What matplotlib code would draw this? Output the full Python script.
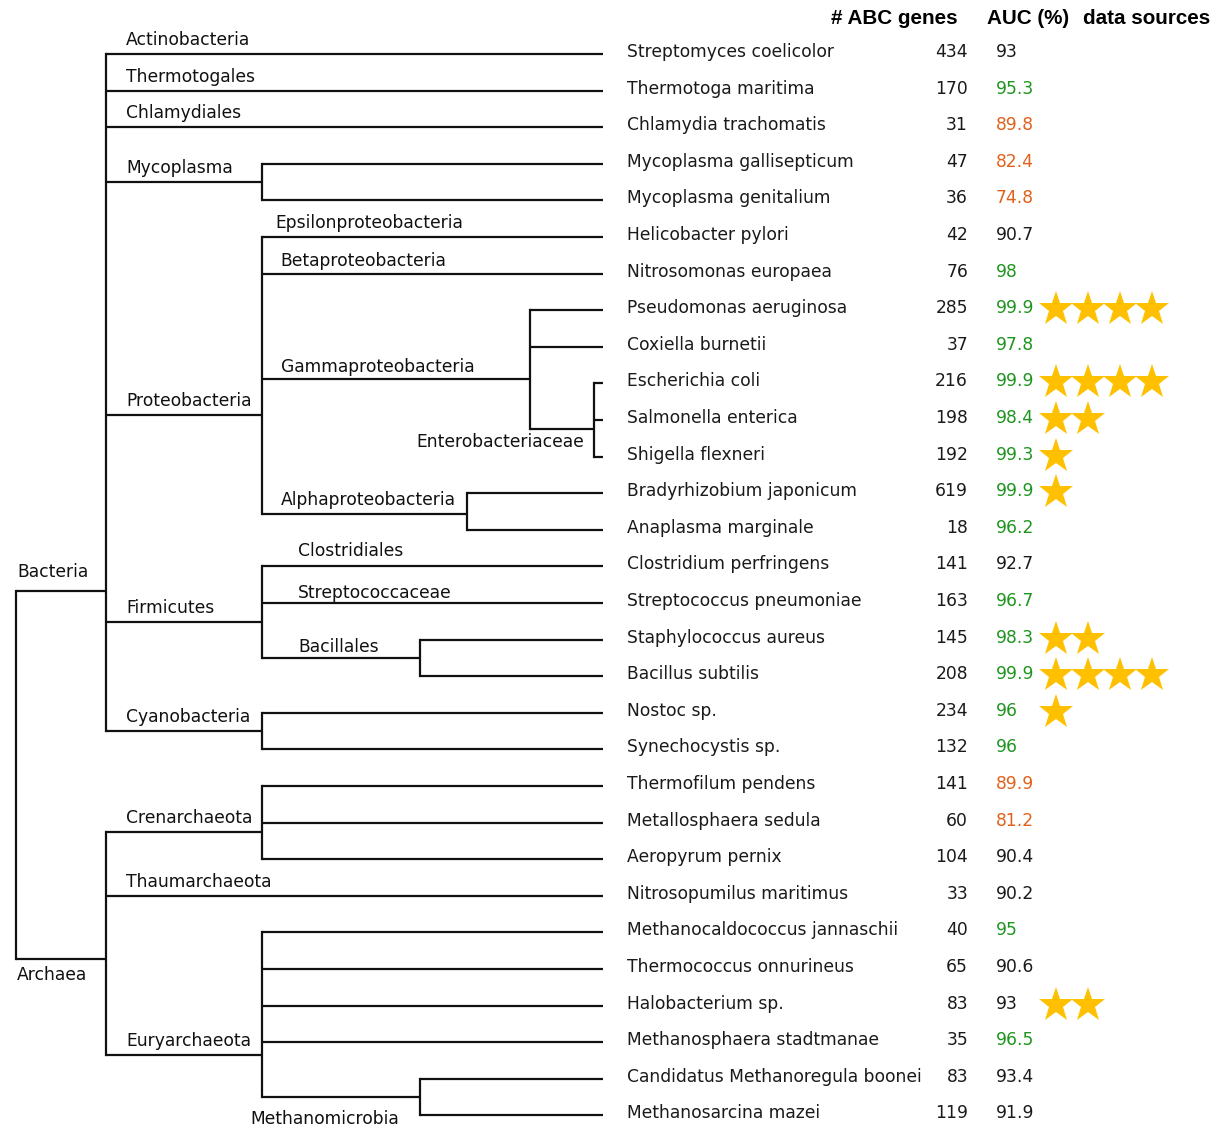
import matplotlib.pyplot as plt

# leaf data (top to bottom)
species = ["Streptomyces coelicolor", "Thermotoga maritima", "Chlamydia trachomatis",
           "Mycoplasma gallisepticum", "Mycoplasma genitalium", "Helicobacter pylori",
           "Nitrosomonas europaea", "Pseudomonas aeruginosa", "Coxiella burnetii",
           "Escherichia coli", "Salmonella enterica", "Shigella flexneri",
           "Bradyrhizobium japonicum", "Anaplasma marginale", "Clostridium perfringens",
           "Streptococcus pneumoniae", "Staphylococcus aureus", "Bacillus subtilis",
           "Nostoc sp.", "Synechocystis sp.", "Thermofilum pendens", "Metallosphaera sedula",
           "Aeropyrum pernix", "Nitrosopumilus maritimus", "Methanocaldococcus jannaschii",
           "Thermococcus onnurineus", "Halobacterium sp.", "Methanosphaera stadtmanae",
           "Candidatus Methanoregula boonei", "Methanosarcina mazei"]
abc_genes = [434, 170, 31, 47, 36, 42, 76, 285, 37, 216, 198, 192, 619, 18, 141,
             163, 145, 208, 234, 132, 141, 60, 104, 33, 40, 65, 83, 35, 83, 119]
auc = ["93", "95.3", "89.8", "82.4", "74.8", "90.7", "98", "99.9", "97.8", "99.9",
       "98.4", "99.3", "99.9", "96.2", "92.7", "96.7", "98.3", "99.9", "96", "96",
       "89.9", "81.2", "90.4", "90.2", "95", "90.6", "93", "96.5", "93.4", "91.9"]
sources = [0, 0, 0, 0, 0, 0, 0, 4, 0, 4, 2, 1, 1, 0, 0,
           0, 2, 4, 1, 0, 0, 0, 0, 0, 0, 0, 2, 0, 0, 0]

# tree: (label, x of node, y of node in leaf units or None=midpoint, children)
# leaves are int indices
tree = ("", 16, 14.67, [
    ("Bacteria", 106, 14.67, [
        ("Actinobacteria", None, None, [0]),
        ("Thermotogales", None, None, [1]),
        ("Chlamydiales", None, None, [2]),
        ("Mycoplasma", 262, None, [3, 4]),
        ("Proteobacteria", 262, 9.86, [
            ("Epsilonproteobacteria", None, None, [5]),
            ("Betaproteobacteria", None, None, [6]),
            ("Gammaproteobacteria", 530, 8.88, [7, 8,
                ("Enterobacteriaceae", 594, 10.25, [9, 10, 11])]),
            ("Alphaproteobacteria", 467, 12.57, [12, 13]),
        ]),
        ("Firmicutes", 262, 15.52, [
            ("Clostridiales", None, None, [14]),
            ("Streptococcaceae", None, None, [15]),
            ("Bacillales", 420, None, [16, 17]),
        ]),
        ("Cyanobacteria", 262, None, [18, 19]),
    ]),
    ("Archaea", 106, 24.73, [
        ("Crenarchaeota", 262, 21.26, [20, 21, 22]),
        ("Thaumarchaeota", None, None, [23]),
        ("Euryarchaeota", 262, 27.35, [24, 25, 26, 27,
            ("Methanomicrobia", 420, None, [28, 29])]),
    ]),
])

# label offsets (dx from parent vertical, dy from branch) in pixels
label_off = {"Bacteria": (1, -19), "Archaea": (1, 16),
             "Epsilonproteobacteria": (13, -14), "Betaproteobacteria": (18, -13),
             "Gammaproteobacteria": (19, -12), "Alphaproteobacteria": (19, -14),
             "Clostridiales": (36, -15), "Streptococcaceae": (36, -10),
             "Bacillales": (36, -11), "Enterobacteriaceae": (-10, 13),
             "Methanomicrobia": (-12, 22)}

Y0, DY = 54, 36.6
LEAF_X = 603
lw = 1.6
FS = 12.3

fig = plt.figure(figsize=(12.24, 11.29), dpi=100)
ax = fig.add_axes([0, 0, 1, 1])
ax.set_xlim(0, 1224)
ax.set_ylim(1129, 0)
ax.axis('off')

def ypos(i):
    return Y0 + i * DY

def layout(node):
    # returns (x, y) for the node
    if isinstance(node, int):
        return LEAF_X, ypos(node)
    label, x, y, children = node
    pts = [layout(c) for c in children]
    if x is None:
        x, y = pts[0]
        return x, y
    if y is None:
        y = (pts[0][1] + pts[-1][1]) / 2
    else:
        y = ypos(y)
    return x, y

def draw(node, px):
    x, y = layout(node)
    if isinstance(node, int):
        ax.plot([px, x], [y, y], color='#111111', lw=lw, solid_capstyle='butt')
        return
    label, nx, ny, children = node
    if px is not None:
        ax.plot([px, x], [y, y], color='#111111', lw=lw, solid_capstyle='butt')
        if label:
            dx, dy = label_off.get(label, (20, -14))
            ha = 'left'
            tx = px + dx
            if label == "Enterobacteriaceae":
                ha, tx = 'right', x + dx
            ax.text(tx, y + dy, label, fontsize=FS, ha=ha, va='center',
                    color='#111111', family='DejaVu Sans')
    if nx is None:
        return
    cys = [layout(c)[1] for c in children]
    ax.plot([x, x], [min(cys), max(cys)], color='#111111', lw=lw, solid_capstyle='projecting')
    for c in children:
        draw(c, x)

draw(tree, None)

# table columns
hdr = dict(fontsize=14.9, fontweight='bold', family='Liberation Sans', va='center', color='black')
ax.text(958, 18, "# ABC genes", ha='right', **hdr)
ax.text(987, 18, "AUC (%)", ha='left', **hdr)
ax.text(1083, 18, "data sources", ha='left', **hdr)

def auc_color(v):
    v = float(v)
    if v >= 95:
        return '#1f951f'
    if v < 90:
        return '#e0621c'
    return '#1a1a1a'

for i, name in enumerate(species):
    y = ypos(i) - 2
    ax.text(627, y, name, fontsize=FS, ha='left', va='center', color='#1a1a1a')
    ax.text(968, y, str(abc_genes[i]), fontsize=FS, ha='right', va='center', color='#1a1a1a')
    ax.text(996, y, auc[i], fontsize=FS, ha='left', va='center', color=auc_color(auc[i]))
    if sources[i]:
        xs = [1056 + 32 * k for k in range(sources[i])]
        ax.plot(xs, [ypos(i) - 1] * sources[i], linestyle='none', marker='*',
                markersize=26, color='#ffc000', markeredgewidth=0)

fig.savefig('out.png', dpi=100)
